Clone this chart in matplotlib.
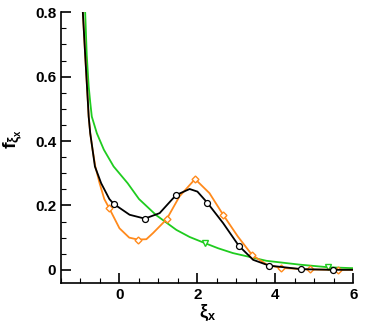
import numpy as np
import matplotlib
matplotlib.use('Agg')
import matplotlib.pyplot as plt
from matplotlib.ticker import MultipleLocator

plt.rcParams['font.family'] = ['Liberation Sans', 'DejaVu Sans']
plt.rcParams['mathtext.fontset'] = 'custom'
plt.rcParams['mathtext.rm'] = 'Liberation Sans:bold'
plt.rcParams['mathtext.it'] = 'Liberation Sans:bold'
plt.rcParams['mathtext.bf'] = 'Liberation Sans:bold'

# 曲线上读出的点
black_x = [-0.94, -0.88, -0.81, -0.79, -0.75, -0.69, -0.63, -0.47, -0.26, -0.15, 0.26, 0.65, 1.03, 1.45, 1.80, 2.00, 2.25, 2.66, 3.06, 3.43, 3.84, 4.67, 5.47, 6.0]
black_y = [0.80, 0.668, 0.52, 0.476, 0.424, 0.373, 0.321, 0.269, 0.220, 0.205, 0.171, 0.159, 0.176, 0.232, 0.251, 0.243, 0.209, 0.145, 0.075, 0.031, 0.013, 0.002, 0.0, 0.0]
black_mx = [-0.15, 0.65, 1.45, 2.25, 3.06, 3.84, 4.67, 5.47]
black_my = [0.205, 0.159, 0.232, 0.209, 0.075, 0.013, 0.002, 0.0]

orange_x = [-0.94, -0.88, -0.81, -0.79, -0.75, -0.69, -0.62, -0.51, -0.39, -0.27, 0.0, 0.25, 0.47, 0.69, 0.86, 1.21, 1.54, 1.94, 2.31, 2.66, 3.04, 3.41, 3.80, 4.14, 4.88, 5.61, 6.0]
orange_y = [0.80, 0.668, 0.52, 0.476, 0.424, 0.373, 0.321, 0.269, 0.220, 0.193, 0.129, 0.100, 0.094, 0.095, 0.114, 0.157, 0.228, 0.282, 0.238, 0.171, 0.103, 0.045, 0.015, 0.006, 0.001, 0.0, 0.0]
orange_mx = [-0.27, 0.47, 1.21, 1.94, 2.66, 3.41, 4.14, 4.88, 5.61]
orange_my = [0.193, 0.094, 0.157, 0.282, 0.171, 0.045, 0.006, 0.001, 0.0]

green_x = [-0.88, -0.84, -0.79, -0.75, -0.71, -0.58, -0.40, -0.15, 0.21, 0.50, 0.94, 1.46, 1.80, 2.19, 2.53, 2.91, 3.77, 4.63, 5.35, 6.0]
green_y = [0.80, 0.668, 0.57, 0.52, 0.476, 0.424, 0.373, 0.321, 0.269, 0.220, 0.17, 0.124, 0.102, 0.083, 0.067, 0.052, 0.028, 0.016, 0.008, 0.005]
green_mx = [2.19, 5.35]
green_my = [0.083, 0.008]

c_orange = '#ff8a1c'
c_green = '#1fcc1f'

fig = plt.figure(figsize=(3.66, 3.25), dpi=100)
ax = fig.add_axes([0.1667, 0.1302, 0.7986, 0.832])

ax.plot(green_x, green_y, color=c_green, lw=1.3)
ax.plot(green_mx, green_my, 'v', color=c_green, mfc='white', ms=4, mew=1)
ax.plot(orange_x, orange_y, color=c_orange, lw=1.3)
ax.plot(orange_mx, orange_my, 'D', color=c_orange, mfc='white', ms=3.5, mew=1)
ax.plot(black_x, black_y, color='black', lw=1.3)
ax.plot(black_mx, black_my, 'o', color='black', mfc='white', ms=4.3, mew=0.9)

ax.set_xlim(-1.5, 6)
ax.set_ylim(-0.04, 0.8)
ax.spines['top'].set_visible(False)
ax.spines['right'].set_visible(False)
ax.spines['left'].set_linewidth(1.2)
ax.spines['bottom'].set_linewidth(1.2)

ax.xaxis.set_major_locator(MultipleLocator(2))
ax.xaxis.set_minor_locator(MultipleLocator(0.5))
ax.yaxis.set_major_locator(MultipleLocator(0.2))
ax.yaxis.set_minor_locator(MultipleLocator(0.05))
ax.tick_params(which='both', direction='in', labelsize=11)
ax.tick_params(which='major', length=7, width=1.2)
ax.tick_params(which='minor', length=3.5, width=0.8)
ax.yaxis.set_major_formatter(plt.FuncFormatter(lambda v, p: '0' if abs(v) < 1e-9 else f'{v:.1f}'))
for lab in ax.get_xticklabels() + ax.get_yticklabels():
    lab.set_fontweight('bold')

ax.set_xlabel(r'$\xi_x$', fontsize=13, labelpad=1)
ax.set_ylabel(r'$f_{\xi_x}$', fontsize=14)
ax.yaxis.set_label_coords(-0.13, 0.53)

fig.savefig('out.png', dpi=100)
